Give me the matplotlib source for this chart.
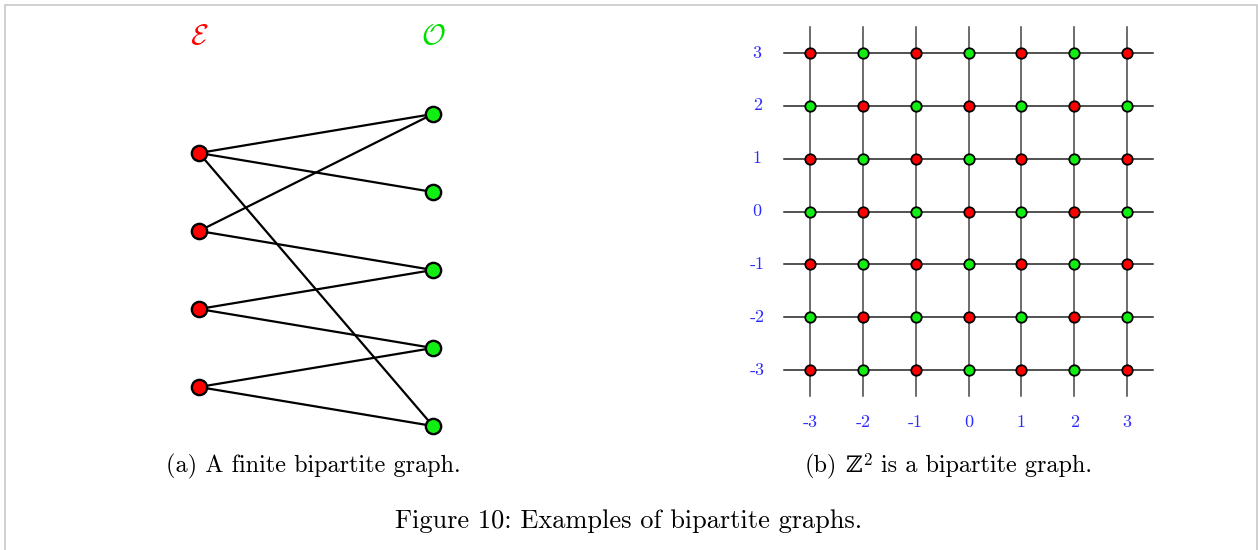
import matplotlib
matplotlib.use("Agg")
import matplotlib.pyplot as plt
from matplotlib.patches import Rectangle
from matplotlib.offsetbox import TextArea, HPacker, AnnotationBbox

plt.rcParams['font.family'] = ['cmr10', 'DejaVu Serif']
plt.rcParams['mathtext.fontset'] = 'cm'
plt.rcParams['axes.unicode_minus'] = False

# ---- data ----
even_nodes = [0.5, 1.5, 2.5, 3.5]          # vertical positions of E nodes
odd_nodes = [0, 1, 2, 3, 4]                # vertical positions of O nodes
edges = [(0, 0), (0, 1), (0, 4), (1, 0), (1, 2), (2, 2), (2, 3), (3, 3), (3, 4)]
grid_vals = [-3, -2, -1, 0, 1, 2, 3]
tick_labels = ['-3', '-2', '-1', '0', '1', '2', '3']
caption_a = "(a) A finite bipartite graph."
caption_b_parts = ["(b)", "\u2124", "$^2$", "is a bipartite graph."]
caption_fig = "Figure 10: Examples of bipartite graphs."

RED = '#ff0000'
GREEN = '#11ee11'
BLUE = '#2b2bff'

W, H = 1258, 550
fig = plt.figure(figsize=(W / 100, H / 100), dpi=100)

def add_axes_px(l, t, r, b):
    return fig.add_axes([l / W, 1 - b / H, (r - l) / W, (b - t) / H])

# ---- left: finite bipartite graph ----
axL = add_axes_px(100, 20, 532, 440)
axL.set_xlim((100 - 199) / 234, (532 - 199) / 234)
axL.set_ylim((440 - 114) / 78, (20 - 114) / 78)
axL.axis('off')
for i, j in edges:
    axL.plot([0, 1], [even_nodes[i], odd_nodes[j]], color='black', lw=1.6, zorder=1,
             solid_capstyle='round')
axL.plot([0] * len(even_nodes), even_nodes, 'o', ms=11, mfc=RED, mec='black', mew=1.7, zorder=3)
axL.plot([1] * len(odd_nodes), odd_nodes, 'o', ms=11, mfc=GREEN, mec='black', mew=1.7, zorder=3)
ylab = (37 - 114) / 78
axL.text(0, ylab, r"$\mathcal{E}$", color=RED, fontsize=21, ha='center', va='center')
axL.text(1, ylab, r"$\mathcal{O}$", color='#00dd00', fontsize=21, ha='center', va='center')

# ---- right: Z^2 grid ----
s = (1127 - 810) / 6
axR = add_axes_px(720, 10, 1200, 440)
axR.set_xlim(-3 + (720 - 810) / s, -3 + (1200 - 810) / s)
axR.set_ylim(-3 - (440 - 370) / s, 3 + (53 - 10) / s)
for spine in axR.spines.values():
    spine.set_visible(False)
lo, hi = grid_vals[0] - 0.5, grid_vals[-1] + 0.5
for v in grid_vals:
    axR.plot([v, v], [lo, hi], color='#444444', lw=1.1, zorder=1)
    axR.plot([lo, hi], [v, v], color='#222222', lw=1.1, zorder=1)
for x in grid_vals:
    for y in grid_vals:
        c = RED if (x + y) % 2 == 0 else GREEN
        axR.plot(x, y, 'o', ms=7.5, mfc=c, mec='black', mew=1.3, zorder=3)
axR.set_xticks([])
axR.set_yticks([])
for v, lab in zip(grid_vals, tick_labels):
    axR.text(v, -4.0, lab, color=BLUE, fontsize=13, ha='center', va='center')
    axR.text(-4.0, v, lab, color=BLUE, fontsize=13, ha='center', va='center')

# ---- captions ----
fig.text(313 / W, 1 - 466 / H, caption_a, fontsize=17.5, ha='center', va='center')
fig.text(629 / W, 1 - 521 / H, caption_fig, fontsize=19, ha='center', va='center')

ta1 = TextArea(caption_b_parts[0], textprops=dict(fontsize=17.5, family='cmr10'))
ta2 = TextArea(caption_b_parts[1], textprops=dict(fontsize=16.5, family='DejaVu Serif'))
ta3 = TextArea(caption_b_parts[2], textprops=dict(fontsize=17.5, family='cmr10'))
ta4 = TextArea(caption_b_parts[3], textprops=dict(fontsize=17.5, family='cmr10'))
inner = HPacker(children=[ta2, ta3], align='baseline', pad=0, sep=0)
box = HPacker(children=[ta1, inner, ta4], align='baseline', pad=0, sep=6)
ab = AnnotationBbox(box, (948 / W, 1 - 466 / H), xycoords='figure fraction',
                    frameon=False, box_alignment=(0.5, 0.5), pad=0)
fig.add_artist(ab)

# ---- frame ----
fig.patches.append(Rectangle((4.5 / W, -0.1), (1252 / W), 1 - 4.5 / H + 0.1,
                             transform=fig.transFigure, fill=False,
                             edgecolor='#c8c8c8', lw=1.2))

fig.savefig("out.png", dpi=100)
